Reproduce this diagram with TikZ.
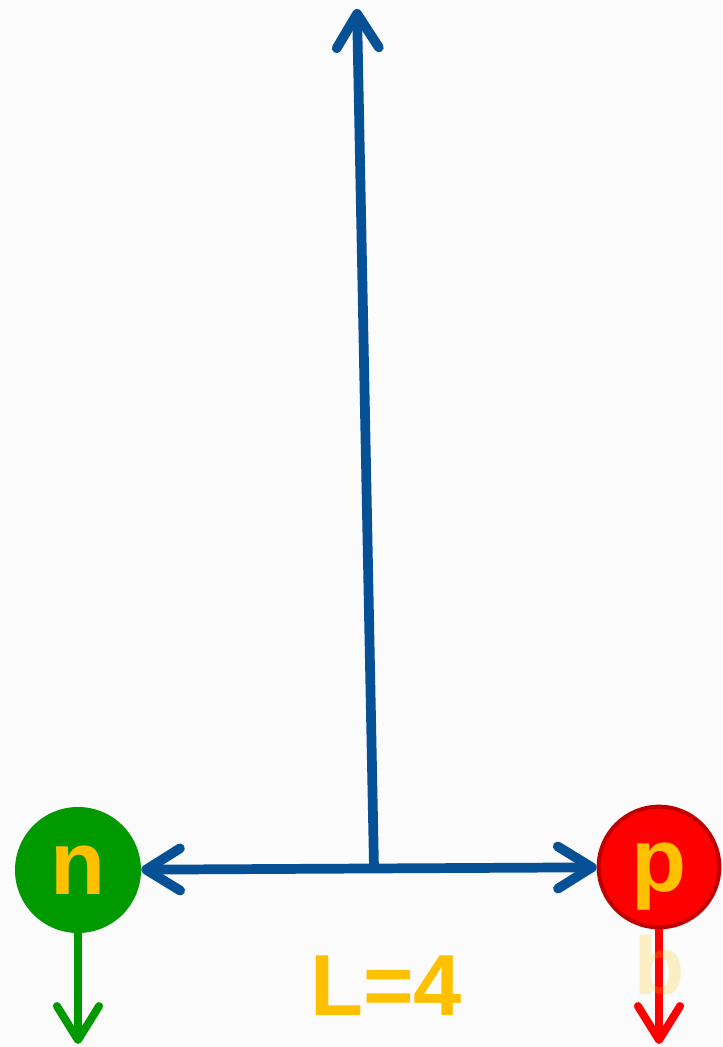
\documentclass[tikz,border=0pt]{standalone}
\usepackage{fontspec}
\setmainfont{Liberation Sans}
\usetikzlibrary{arrows.meta}
\definecolor{bgc}{RGB}{251,251,251}
\definecolor{bluec}{RGB}{6,81,150}
\definecolor{greenc}{RGB}{0,153,0}
\definecolor{redc}{RGB}{255,0,0}
\definecolor{redb}{RGB}{192,0,0}
\definecolor{goldc}{RGB}{255,192,0}
\tikzset{
  ball/.style={circle, inner sep=0pt, text=goldc, text depth=0pt,
    font=\bfseries\fontsize{77}{80}\selectfont},
  barb/.style={-{Straight Barb[length=29pt,width=36pt,round]}},
  bluearrow/.style={draw=bluec, line width=8.3pt, line cap=round},
  droparrow/.style={line width=6.8pt, line cap=butt},
  lbl/.style={text=goldc, text depth=0pt, inner sep=0pt, font=\bfseries\fontsize{74}{78}\selectfont}
}
\begin{document}
\begin{tikzpicture}[x=0.03cm,y=-0.03cm]
\fill[bgc] (0,0) rectangle (722,1047);
\useasboundingbox (0,0) rectangle (722,1047);
% balls
\node[ball, fill=greenc, minimum size=3.78cm] (n) at (78,870) {n};
\node[ball, fill=redc, draw=redb, line width=3.4pt, minimum size=3.62cm] (p) at (659,867) {p};
% coordinates
\coordinate (top) at (357,9);
\coordinate (mid) at (374,868);
\coordinate (nd) at (78,1044);
\coordinate (pd) at (659,1044);
% arrows
\draw[bluearrow, {Straight Barb[length=29pt,width=36pt,round]}-{Straight Barb[length=29pt,width=36pt,round]}] (n) -- (p);
\draw[bluearrow, barb] (mid) -- (top);
\draw[droparrow, draw=greenc, barb] (n.south) -- (nd);
\draw[droparrow, draw=redc, barb] (p.south) -- (pd);
% labels
\node[lbl] (L) at (386,986) {L=4};
\node[lbl, text opacity=0.22, font=\bfseries\fontsize{70}{74}\selectfont] (b) at (660,965) {b};
\end{tikzpicture}
\end{document}
